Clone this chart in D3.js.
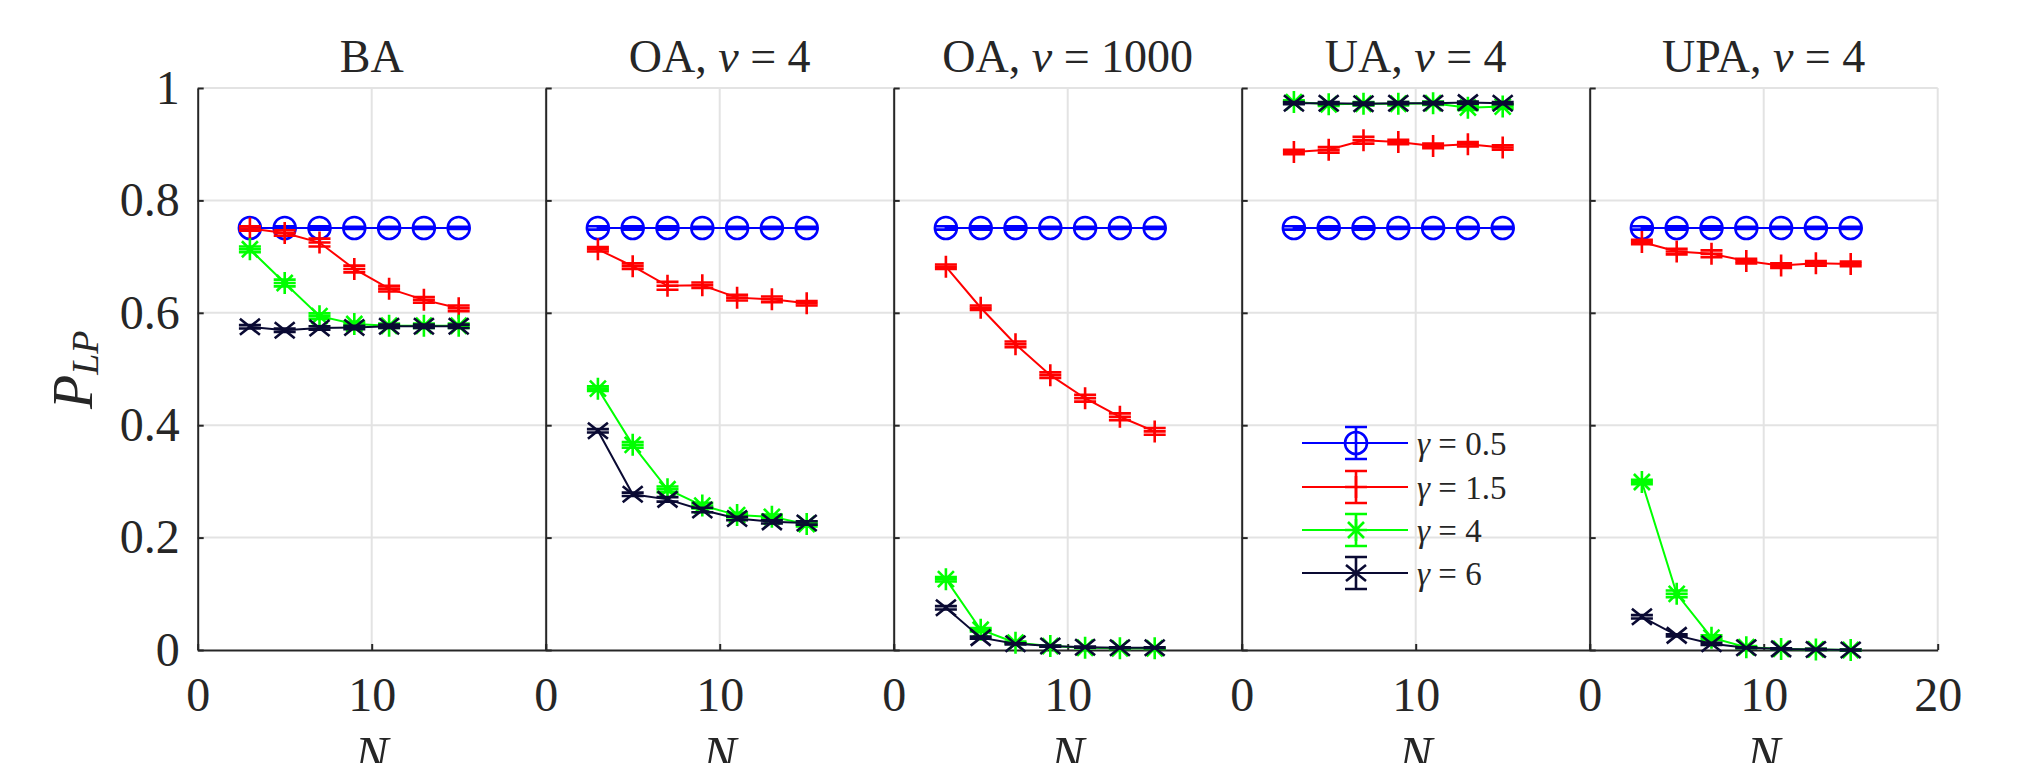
<!DOCTYPE html>
<html>
<head>
<meta charset="utf-8">
<script src="https://cdn.jsdelivr.net/npm/d3@7"></script>
<style>
  body { margin: 0; background: #fff; }
</style>
</head>
<body>
<svg id="chart" width="2023" height="763"></svg>
<script>
// ---- data ----
const nValues = [3, 5, 7, 9, 11, 13, 15];
const gammaLabels = ["0.5", "1.5", "4", "6"];
const xTicks = [0, 10, 20];
const yTicks = [0, 0.2, 0.4, 0.6, 0.8, 1];

// panel titles: [plain, italic, plain]
const panelTitles = [
  ["BA", "", ""],
  ["OA, ", "v", " = 4"],
  ["OA, ", "v", " = 1000"],
  ["UA, ", "v", " = 4"],
  ["UPA, ", "v", " = 4"],
];

// P_LP per panel, one row per gamma (0.5, 1.5, 4, 6)
const baValues = [
  [0.751, 0.751, 0.751, 0.751, 0.751, 0.751, 0.751],
  [0.750, 0.742, 0.725, 0.678, 0.643, 0.623, 0.608],
  [0.713, 0.653, 0.594, 0.580, 0.577, 0.577, 0.577],
  [0.575, 0.569, 0.573, 0.574, 0.576, 0.576, 0.576],
];
const oa4Values = [
  [0.751, 0.751, 0.751, 0.751, 0.751, 0.751, 0.751],
  [0.713, 0.683, 0.648, 0.649, 0.627, 0.624, 0.617],
  [0.465, 0.365, 0.286, 0.257, 0.240, 0.237, 0.224],
  [0.390, 0.277, 0.268, 0.249, 0.234, 0.228, 0.226],
];
const oa1000Values = [
  [0.751, 0.751, 0.751, 0.751, 0.751, 0.751, 0.751],
  [0.682, 0.609, 0.544, 0.489, 0.448, 0.415, 0.389],
  [0.126, 0.036, 0.013, 0.007, 0.004, 0.003, 0.003],
  [0.075, 0.022, 0.011, 0.007, 0.005, 0.004, 0.004],
];
const ua4Values = [
  [0.751, 0.751, 0.751, 0.751, 0.751, 0.751, 0.751],
  [0.886, 0.890, 0.907, 0.904, 0.897, 0.900, 0.894],
  [0.975, 0.971, 0.972, 0.972, 0.973, 0.965, 0.967],
  [0.973, 0.973, 0.972, 0.973, 0.973, 0.974, 0.973],
];
const upa4Values = [
  [0.751, 0.751, 0.751, 0.751, 0.751, 0.751, 0.751],
  [0.726, 0.709, 0.705, 0.692, 0.684, 0.688, 0.687],
  [0.299, 0.100, 0.022, 0.005, 0.002, 0.001, 0.000],
  [0.059, 0.026, 0.011, 0.004, 0.002, 0.001, 0.000],
];

// error bar half-heights (estimated)
const baErr = [
  [0.003, 0.003, 0.003, 0.002, 0.002, 0.002, 0.002],
  [0.004, 0.005, 0.007, 0.006, 0.005, 0.005, 0.005],
  [0.005, 0.006, 0.005, 0.004, 0.004, 0.004, 0.004],
  [0.003, 0.003, 0.003, 0.003, 0.003, 0.003, 0.003],
];
const oa4Err = [
  [0.003, 0.003, 0.003, 0.002, 0.002, 0.002, 0.002],
  [0.004, 0.005, 0.007, 0.005, 0.005, 0.005, 0.004],
  [0.004, 0.005, 0.005, 0.005, 0.004, 0.004, 0.004],
  [0.003, 0.003, 0.004, 0.004, 0.003, 0.003, 0.003],
];
const oa1000Err = [
  [0.003, 0.003, 0.003, 0.002, 0.002, 0.002, 0.002],
  [0.004, 0.004, 0.005, 0.005, 0.006, 0.006, 0.006],
  [0.004, 0.003, 0.002, 0.001, 0.001, 0.001, 0.001],
  [0.003, 0.002, 0.001, 0.001, 0.001, 0.001, 0.001],
];
const ua4Err = [
  [0.003, 0.003, 0.003, 0.002, 0.002, 0.002, 0.002],
  [0.004, 0.005, 0.006, 0.004, 0.004, 0.004, 0.004],
  [0.003, 0.003, 0.003, 0.003, 0.003, 0.004, 0.004],
  [0.002, 0.002, 0.002, 0.002, 0.002, 0.002, 0.002],
];
const upa4Err = [
  [0.003, 0.003, 0.003, 0.002, 0.002, 0.002, 0.002],
  [0.004, 0.005, 0.006, 0.004, 0.004, 0.004, 0.004],
  [0.004, 0.006, 0.004, 0.002, 0.001, 0.001, 0.001],
  [0.003, 0.002, 0.002, 0.001, 0.001, 0.001, 0.001],
];

const panelValues = [baValues, oa4Values, oa1000Values, ua4Values, upa4Values];
const panelErrors = [baErr, oa4Err, oa1000Err, ua4Err, upa4Err];

// ---- style / layout ----
const colors = ["#0000ff", "#ff0000", "#00ff00", "#0a0a33"];
const markers = ["circle", "plus", "star", "cross"];
const axisColor = "#262626";
const gridColor = "#e3e3e3";
const fontFamily = '"Liberation Serif"';
const left0 = 197.7, panelW = 348, plotTop = 88, plotBottom = 650;
const capW = 11; // half width of error bar caps

const svg = d3.select("#chart")
  .style("font-family", fontFamily);
const y = d3.scaleLinear([0, 1], [plotBottom, plotTop]);

function drawMarker(sel, type, color) {
  const g = sel.append("g")
    .attr("fill", "none")
    .attr("stroke", color)
    .attr("stroke-width", 2.6);
  if (type === "circle") {
    g.append("circle").attr("r", 11);
  } else if (type === "plus") {
    g.append("path").attr("d", "M-11,0H11M0,-11V11");
  } else if (type === "star") {
    g.append("path").attr("d", "M-11,0H11M0,-11V11M-8,-8L8,8M-8,8L8,-8");
  } else {
    g.append("path").attr("d", "M-10,-8L10,8M-10,8L10,-8");
  }
}

panelValues.forEach((values, p) => {
  const x0 = left0 + p * panelW;
  const x = d3.scaleLinear([0, 20], [x0, x0 + panelW]);
  const panel = svg.append("g");

  // grid
  panel.append("g")
    .selectAll("line")
    .data(yTicks.filter(d => d > 0))
    .join("line")
      .attr("x1", x(0)).attr("x2", x(20))
      .attr("y1", d => y(d)).attr("y2", d => y(d))
      .attr("stroke", gridColor).attr("stroke-width", 2);
  panel.append("g")
    .selectAll("line")
    .data([10, 20])
    .join("line")
      .attr("x1", d => x(d)).attr("x2", d => x(d))
      .attr("y1", y(0)).attr("y2", y(1))
      .attr("stroke", gridColor).attr("stroke-width", 2);

  // axes
  const yAxis = panel.append("g")
    .attr("transform", `translate(${x(0)},0)`)
    .call(d3.axisLeft(y).tickValues(yTicks).tickSize(-6).tickSizeOuter(0)
      .tickPadding(18).tickFormat(p === 0 ? d3.format("~g") : ""));
  const xAxis = panel.append("g")
    .attr("transform", `translate(0,${y(0)})`)
    .call(d3.axisBottom(x).tickValues(xTicks).tickSize(-6).tickSizeOuter(0)
      .tickPadding(27).tickFormat(d => (d === 20 && p < 4) ? "" : d));
  [yAxis, xAxis].forEach(a => {
    a.style("font-family", fontFamily);
    a.selectAll("path, line").attr("stroke", axisColor).attr("stroke-width", 2);
    a.selectAll("text").attr("font-size", 48).attr("fill", axisColor)
      .style("font-family", fontFamily);
  });

  // title
  const [t1, t2, t3] = panelTitles[p];
  const title = panel.append("text")
    .attr("x", x(10)).attr("y", 72)
    .attr("text-anchor", "middle")
    .attr("font-size", 46)
    .attr("fill", axisColor)
    .style("font-family", fontFamily);
  title.append("tspan").text(t1);
  if (t2) {
    title.append("tspan").attr("font-style", "italic").text(t2);
    title.append("tspan").text(t3);
  }

  // x label (cut by the bottom edge, as in the original figure)
  panel.append("text")
    .attr("x", x(10)).attr("y", 771)
    .attr("text-anchor", "middle")
    .attr("font-size", 50)
    .attr("font-style", "italic")
    .attr("fill", axisColor)
    .style("font-family", fontFamily)
    .text("N");

  // series
  const line = d3.line().x((d, i) => x(nValues[i])).y(d => y(d));
  values.forEach((vals, k) => {
    const errs = panelErrors[p][k];
    const s = panel.append("g");
    s.append("path")
      .attr("d", line(vals))
      .attr("fill", "none")
      .attr("stroke", colors[k])
      .attr("stroke-width", 2);

    const pts = s.selectAll("g.pt")
      .data(vals.map((v, i) => ({ n: nValues[i], v, e: errs[i] })))
      .join("g")
        .attr("class", "pt")
        .attr("transform", d => `translate(${x(d.n)},${y(d.v)})`);
    pts.append("path")
      .attr("d", d => {
        const up = y(d.v + d.e) - y(d.v), dn = y(d.v - d.e) - y(d.v);
        return `M0,${up}V${dn}M${-capW},${up}H${capW}M${-capW},${dn}H${capW}`;
      })
      .attr("fill", "none")
      .attr("stroke", colors[k])
      .attr("stroke-width", 2.6);
    pts.each(function () { drawMarker(d3.select(this), markers[k], colors[k]); });
  });
});

// y label
const ylab = svg.append("text")
  .attr("transform", `translate(92,${(plotTop + plotBottom) / 2 + 40}) rotate(-90)`)
  .attr("font-size", 56)
  .attr("font-style", "italic")
  .attr("fill", axisColor)
  .style("font-family", fontFamily);
ylab.append("tspan").text("P");
ylab.append("tspan").attr("font-size", 38).attr("dy", 6).text("LP");

// legend (inside UA panel)
const legend = svg.append("g");
const legRows = [443, 487, 530, 573];
gammaLabels.forEach((gLabel, k) => {
  const row = legend.append("g").attr("transform", `translate(0,${legRows[k]})`);
  row.append("line")
    .attr("x1", 1302).attr("x2", 1408)
    .attr("stroke", colors[k]).attr("stroke-width", 2);
  const m = row.append("g").attr("transform", "translate(1356,0)");
  m.append("path")
    .attr("d", `M0,-16V16M${-capW},-16H${capW}M${-capW},16H${capW}`)
    .attr("fill", "none").attr("stroke", colors[k]).attr("stroke-width", 2.6);
  drawMarker(m, markers[k], colors[k]);
  const t = row.append("text")
    .attr("x", 1417).attr("dy", "0.35em")
    .attr("font-size", 33)
    .attr("fill", axisColor)
    .style("font-family", fontFamily);
  t.append("tspan").attr("font-style", "italic").text("γ");
  t.append("tspan").text(" = " + gLabel);
});
</script>
</body>
</html>
